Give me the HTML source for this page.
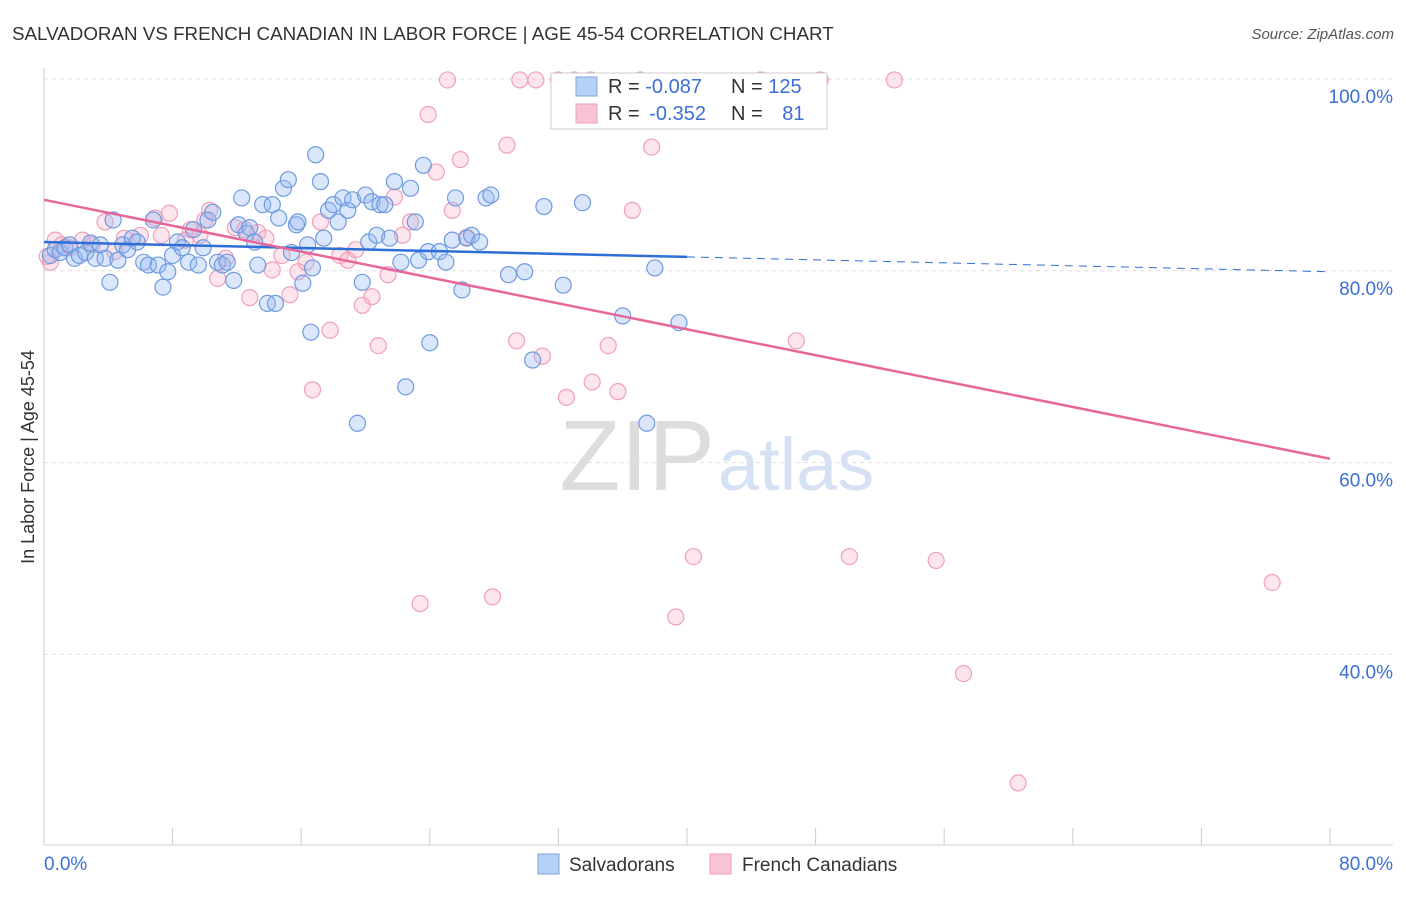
<!DOCTYPE html>
<html><head><meta charset="utf-8"><style>
body{margin:0;background:#fff;font-family:"Liberation Sans",sans-serif}
svg text{font-family:"Liberation Sans",sans-serif}
</style></head><body>
<svg id="chart" width="1406" height="892">
<text x="12" y="40" font-size="18.8" fill="#333">SALVADORAN VS FRENCH CANADIAN IN LABOR FORCE | AGE 45-54 CORRELATION CHART</text>
<text x="1394" y="39" font-size="15" fill="#555" text-anchor="end" font-style="italic">Source: ZipAtlas.com</text>
<text x="715" y="490" font-size="100" fill="#ddd" text-anchor="end" font-family="Liberation Serif">ZIP</text>
<text x="718" y="490" font-size="74" fill="#d6e2f3">atlas</text>
<g id="grid"></g>
<g id="axes"></g>
<g id="pts"></g>
<g id="trend"></g>
<text transform="translate(34,457) rotate(-90)" font-size="18" fill="#333" text-anchor="middle">In Labor Force | Age 45-54</text>
<g>
<rect x="551" y="73" width="276" height="56" fill="#fff" stroke="#ccc"/>
<rect x="576" y="77" width="21" height="19" fill="#b8d0f4" stroke="#7fa6e0"/>
<rect x="576" y="104" width="21" height="19" fill="#f8c3d3" stroke="#f0a0b8"/>
<text x="608" y="93" font-size="20" fill="#333">R = <tspan fill="#3b6fd4">-0.087</tspan></text>
<text x="731" y="93" font-size="20" fill="#333">N = <tspan fill="#3b6fd4">125</tspan></text>
<text x="608" y="120" font-size="20" fill="#333">R = <tspan fill="#3b6fd4" dx="4">-0.352</tspan></text>
<text x="731" y="120" font-size="20" fill="#333">N = <tspan fill="#3b6fd4" dx="14">81</tspan></text>
</g>
<g>
<rect x="538" y="854" width="21" height="20" fill="#b8d0f4" stroke="#7fa6e0"/>
<text x="569" y="871" font-size="19" fill="#333">Salvadorans</text>
<rect x="710" y="854" width="21" height="20" fill="#f8c3d3" stroke="#f0a0b8"/>
<text x="742" y="871" font-size="19" fill="#333">French Canadians</text>
</g>
</svg>
<script>
const xTicks=[0,10,20,30,40,50,60,70,80];
const yTicks=[40,60,80,100];
const blueX=[0.4,0.7,1.0,1.3,1.6,1.9,2.2,2.6,2.9,3.2,3.5,3.8,4.1,4.3,4.6,4.9,5.2,5.5,5.8,6.2,6.5,6.8,7.1,7.4,7.7,8.0,8.3,8.6,9.0,9.3,9.6,9.9,10.2,10.5,10.8,11.1,11.4,11.8,12.1,12.3,12.6,12.8,13.1,13.3,13.6,13.9,14.2,14.4,14.6,14.9,15.2,15.4,15.7,15.8,16.1,16.4,16.6,16.7,16.9,17.2,17.4,17.7,18.0,18.3,18.6,18.9,19.2,19.5,19.8,20.0,20.2,20.4,20.7,20.9,21.2,21.5,21.8,22.2,22.5,22.8,23.1,23.3,23.6,23.9,24.0,24.6,25.0,25.4,25.6,26.0,26.3,26.6,27.1,27.5,27.8,28.9,29.9,30.4,31.1,32.3,33.5,36.0,37.5,38.0,39.5];
const blueY=[81.6,82.2,81.9,82.4,82.7,81.3,81.6,81.9,82.9,81.3,82.7,81.3,78.8,85.3,81.1,82.7,82.2,83.4,83.0,80.9,80.6,85.3,80.6,78.3,79.9,81.6,83.0,82.4,80.9,84.3,80.6,82.4,85.3,86.1,80.9,80.6,80.9,79.0,84.8,87.6,83.9,84.5,83.0,80.6,86.9,76.6,86.9,76.6,85.5,88.6,89.5,81.9,84.8,85.1,78.7,82.7,73.6,80.3,92.1,89.3,83.4,86.3,86.9,85.1,87.6,86.3,87.4,64.1,78.8,87.9,83.0,87.2,83.7,86.9,86.9,83.4,89.3,80.9,67.9,88.6,85.1,81.1,91.0,82.0,72.5,82.0,80.9,83.2,87.6,78.0,83.4,83.7,83.0,87.6,87.9,79.6,79.9,70.7,86.7,78.5,87.1,75.3,64.1,80.3,74.6];
const pinkX=[0.4,0.7,1.1,1.6,2.4,3.0,3.8,4.4,5.0,6.0,6.9,7.3,7.8,8.8,9.1,9.7,10.0,10.3,10.8,11.3,11.9,12.5,12.8,13.3,13.8,14.2,14.8,15.3,15.8,16.3,16.7,17.2,17.8,18.4,18.9,19.4,19.8,20.4,20.8,21.4,21.8,22.3,22.8,23.4,23.9,24.4,25.1,25.4,25.9,26.3,27.9,28.8,29.4,29.6,30.6,31.0,32.0,32.5,33.0,34.1,35.1,35.7,36.6,37.1,37.8,39.3,40.4,44.6,46.8,48.3,50.1,52.9,55.5,57.2,60.6,76.4,0.2,34.0];
const pinkY=[80.9,83.2,82.7,82.4,83.2,82.7,85.1,82.0,83.4,83.7,85.5,83.7,86.0,83.2,84.3,83.7,85.3,86.3,79.2,81.3,84.5,84.3,77.2,84.0,83.4,80.1,81.6,77.5,79.9,80.9,67.6,85.1,73.8,81.6,81.1,82.2,76.4,77.3,72.2,79.6,87.7,83.7,85.1,45.3,96.3,90.3,99.9,86.3,91.6,83.5,46.0,93.1,72.7,99.9,99.9,71.1,99.9,66.8,99.9,68.4,72.2,67.4,86.3,99.9,92.9,43.9,50.2,99.9,72.7,99.9,50.2,99.9,49.8,38.0,26.6,47.5,81.5,99.9];
const trendBlue=[83.0,79.9];
const trendPink=[87.4,60.4];
const NS="http://www.w3.org/2000/svg";
const X=v=>44+v*16.075, Y=v=>1038-v*9.59;
function mk(t,a,p){const e=document.createElementNS(NS,t);for(const k in a)e.setAttribute(k,a[k]);p.appendChild(e);return e;}
const grid=document.getElementById('grid'),axes=document.getElementById('axes'),pts=document.getElementById('pts'),tr=document.getElementById('trend');
yTicks.forEach(v=>{
 const l=mk('line',{x1:44,x2:1393,y1:Y(v),y2:Y(v),stroke:'#ddd','stroke-dasharray':'4,4'},grid);
 
 
 const t=mk('text',{x:1393,y:Y(v)+24,'font-size':19,fill:'#3b6fd4','text-anchor':'end'},axes);
 t.textContent=v.toFixed(1)+'%';
 
 
});
mk('line',{x1:44,x2:44,y1:68,y2:845,stroke:'#ccc'},axes);
mk('line',{x1:44,x2:1393,y1:845,y2:845,stroke:'#ccc'},axes);
for(let i=0;i<=10;i++){const x=X(i*8);mk('line',{x1:x,x2:x,y1:828,y2:845,stroke:'#ccc'},axes);}
[[0,'start'],[80,'end']].forEach(([v,a])=>{
 const t=mk('text',{x:v?1393:44,y:870,'font-size':19,fill:'#3b6fd4','text-anchor':a},axes);
 t.textContent=v.toFixed(1)+'%';
 
 
});
pinkX.forEach((x,i)=>{
 const c=mk('circle',{cx:X(x),cy:Y(pinkY[i]),r:8,fill:'rgba(245,170,195,0.3)',stroke:'#f0a0b8','stroke-width':1.2},pts);
 
 
});
blueX.forEach((x,i)=>{
 const c=mk('circle',{cx:X(x),cy:Y(blueY[i]),r:8,fill:'rgba(150,185,240,0.35)',stroke:'#6f9ae0','stroke-width':1.2},pts);
 
 
});
const by=x=>trendBlue[0]+(trendBlue[1]-trendBlue[0])*x/80;
let l=mk('line',{x1:X(0),y1:Y(by(0)),x2:X(40),y2:Y(by(40)),stroke:'#2d6fd6','stroke-width':2.5},tr);


l=mk('line',{x1:X(40),y1:Y(by(40)),x2:X(80),y2:Y(by(80)),stroke:'#2d6fd6','stroke-width':1,'stroke-dasharray':'8,6'},tr);


l=mk('line',{x1:X(0),y1:Y(trendPink[0]),x2:X(80),y2:Y(trendPink[1]),stroke:'#e8679a','stroke-width':2.5},tr);


</script>
</body></html>
